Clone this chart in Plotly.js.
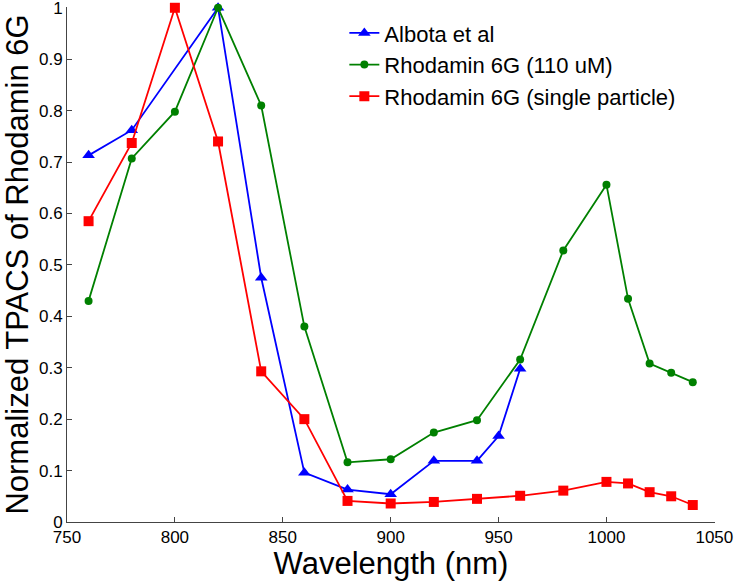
<!DOCTYPE html>
<html>
<head>
<meta charset="utf-8">
<script src="https://cdn.plot.ly/plotly-3.0.1.min.js"></script>
<style>html,body{margin:0;padding:0;background:#fff;}#chart{width:736px;height:581px;}</style>
</head>
<body>
<div id="chart"></div>
<script>
const albotaX = [760, 780, 820, 840, 860, 880, 900, 920, 940, 950, 960];
const albotaY = [0.713, 0.762, 1.0, 0.475, 0.096, 0.063, 0.054, 0.119, 0.119, 0.167, 0.298];
const rh110X = [760, 780, 800, 820, 840, 860, 880, 900, 920, 940, 960, 980, 1000, 1010, 1020, 1030, 1040];
const rh110Y = [0.43, 0.707, 0.798, 1.0, 0.81, 0.38, 0.116, 0.122, 0.174, 0.198, 0.316, 0.528, 0.656, 0.434, 0.308, 0.29, 0.272];
const singleX = [760, 780, 800, 820, 840, 860, 880, 900, 920, 940, 960, 980, 1000, 1010, 1020, 1030, 1040];
const singleY = [0.585, 0.737, 1.0, 0.74, 0.293, 0.2, 0.041, 0.036, 0.039, 0.045, 0.051, 0.061, 0.078, 0.075, 0.058, 0.05, 0.033];
const seriesNames = ["Albota et al", "Rhodamin 6G (110 uM)", "Rhodamin 6G (single particle)"];
const xTicks = [750, 800, 850, 900, 950, 1000, 1050];
const yTicks = [0, 0.1, 0.2, 0.3, 0.4, 0.5, 0.6, 0.7, 0.8, 0.9, 1];
const yTickText = ["0", "0.1", "0.2", "0.3", "0.4", "0.5", "0.6", "0.7", "0.8", "0.9", "1"];

const traces = [
  {x: albotaX, y: albotaY, name: seriesNames[0], mode: "lines+markers", type: "scatter", cliponaxis: false,
   line: {color: "#0000ff", width: 1.8}, marker: {symbol: "triangle-up", size: 11, color: "#0000ff"}},
  {x: rh110X, y: rh110Y, name: seriesNames[1], mode: "lines+markers", type: "scatter", cliponaxis: false,
   line: {color: "#008000", width: 1.8}, marker: {symbol: "circle", size: 8, color: "#008000"}},
  {x: singleX, y: singleY, name: seriesNames[2], mode: "lines+markers", type: "scatter", cliponaxis: false,
   line: {color: "#ff0000", width: 1.8}, marker: {symbol: "square", size: 10, color: "#ff0000"}}
];

const layout = {
  width: 736, height: 581,
  margin: {l: 66.5, r: 21, t: 7, b: 59, autoexpand: false},
  paper_bgcolor: "#fff", plot_bgcolor: "#fff",
  font: {family: "Liberation Sans, Arial, sans-serif", color: "#000"},
  showlegend: true,
  legend: {x: 0.428, y: 0.99, xanchor: "left", yanchor: "top", bgcolor: "rgba(0,0,0,0)",
           font: {size: 22, color: "#000"}, tracegroupgap: 0},
  xaxis: {range: [750, 1050.3], tickvals: xTicks, ticktext: xTicks.map(String), ticklabeloverflow: "allow",
          showline: true, linecolor: "#444", linewidth: 1, ticks: "inside", ticklen: 5, tickcolor: "#444",
          showgrid: false, zeroline: false, tickfont: {size: 17},
          title: {text: "Wavelength (nm)", font: {size: 31}, standoff: 2}},
  yaxis: {range: [0, 1.0015], tickvals: yTicks, ticktext: yTickText, ticklabeloverflow: "allow",
          showline: true, linecolor: "#444", linewidth: 1, ticks: "inside", ticklen: 5, tickcolor: "#444",
          showgrid: false, zeroline: false, tickfont: {size: 17},
          title: {text: "Normalized TPACS of Rhodamin 6G", font: {size: 31}, standoff: 3}}
};

Plotly.newPlot("chart", traces, layout, {displayModeBar: false, staticPlot: true});
</script>
</body>
</html>
